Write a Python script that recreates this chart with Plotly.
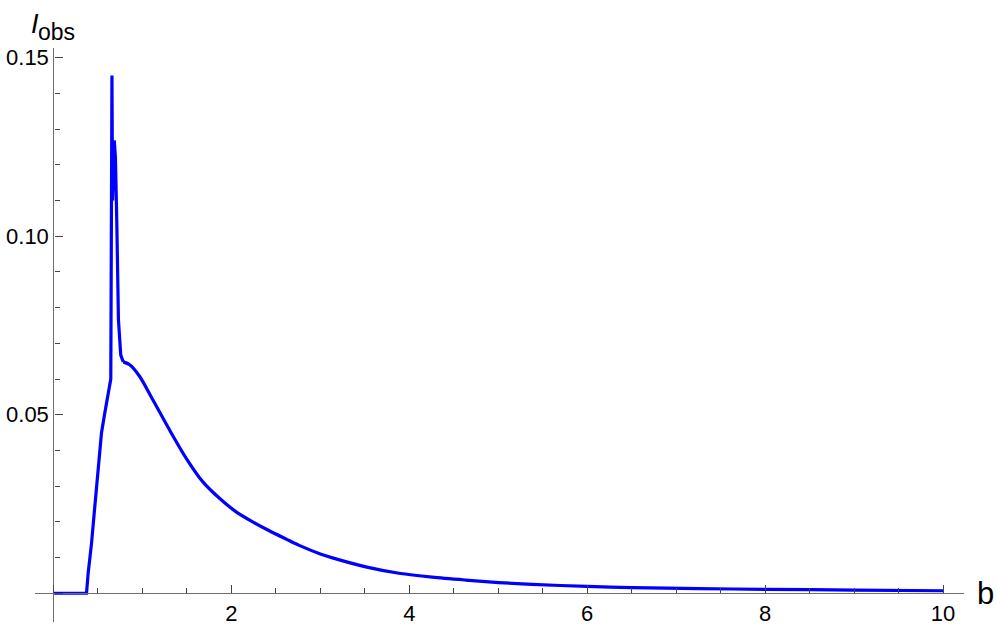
import plotly.graph_objects as go

# values
b_vals = [0, 0.372, 0.39, 0.428, 0.465, 0.502, 0.54, 0.577, 0.633, 0.645, 0.658,
          0.665, 0.684, 0.697, 0.712, 0.731, 0.757, 0.785, 0.858, 0.97, 1.119,
          1.306, 1.493, 1.68, 1.867, 2.054, 2.24, 2.427, 2.614, 2.763, 3.0, 3.137,
          3.511, 3.885, 4.258, 4.632, 5.006, 5.38, 6.0, 6.5, 7.25, 8.0, 9.0, 10.0]
i_obs = [0, 0, 0.0055, 0.0139, 0.0242, 0.0354, 0.0448, 0.0504, 0.0583, 0.060, 0.145,
         0.110, 0.1268, 0.122, 0.1046, 0.0766, 0.0667, 0.0648, 0.0640, 0.0607, 0.0541,
         0.0457, 0.0378, 0.0312, 0.0266, 0.0228, 0.0200, 0.0175, 0.0152, 0.0134, 0.0110,
         0.0099, 0.0074, 0.0056, 0.0045, 0.0037, 0.0030, 0.0025, 0.0019, 0.0016, 0.0013,
         0.0011, 0.0009, 0.0007]

x_ticks = [0, 2, 4, 6, 8, 10]
x_labels = ["", "2", "4", "6", "8", "10"]
y_ticks = [0, 0.05, 0.10, 0.15]
y_labels = ["", "0.05", "0.10", "0.15"]

X_RANGE = [-0.207, 10.236]
Y_RANGE = [-0.00805, 0.1527]

AXIS_GRAY = "#6e6e6e"
FONT = "Liberation Sans, Arial, sans-serif"

# the spike is drawn with straight segments, the smooth decay as a spline
split = b_vals.index(0.785)

fig = go.Figure()
fig.add_trace(
    go.Scatter(
        x=b_vals[: split + 1],
        y=i_obs[: split + 1],
        mode="lines",
        line=dict(color="#0000ff", width=3.2),
        showlegend=False,
    )
)
fig.add_trace(
    go.Scatter(
        x=b_vals[split:],
        y=i_obs[split:],
        mode="lines",
        line=dict(color="#0000ff", width=3.2, shape="spline", smoothing=0.8),
        showlegend=False,
    )
)

axis_common = dict(
    showgrid=False,
    zeroline=False,
    showline=True,
    linecolor=AXIS_GRAY,
    linewidth=1.3,
    ticks="inside",
    ticklen=8,
    tickwidth=1.1,
    tickcolor="#444444",
    tickfont=dict(family=FONT, size=22, color="black"),
    tickmode="array",
    anchor="free",
    automargin=False,
)

fig.update_layout(
    width=997,
    height=629,
    margin=dict(l=35, r=33, t=48, b=7, autoexpand=False),
    paper_bgcolor="white",
    plot_bgcolor="white",
    xaxis=dict(
        **axis_common,
        range=X_RANGE,
        tickvals=x_ticks,
        ticktext=x_labels,
        position=(0 - Y_RANGE[0]) / (Y_RANGE[1] - Y_RANGE[0]),
        minor=dict(dtick=0.5, tick0=0, ticks="inside", ticklen=5, tickcolor="#444444"),
    ),
    yaxis=dict(
        **axis_common,
        range=Y_RANGE,
        tickvals=y_ticks,
        ticktext=y_labels,
        position=(0 - X_RANGE[0]) / (X_RANGE[1] - X_RANGE[0]),
        minor=dict(dtick=0.01, tick0=0, ticks="inside", ticklen=5, tickcolor="#444444"),
    ),
    annotations=[
        dict(
            text="<i>I</i>",
            xref="paper", yref="paper",
            x=-0.0065, y=1.042,
            xanchor="left", yanchor="middle",
            showarrow=False,
            font=dict(family=FONT, size=27, color="black"),
        ),
        dict(
            text="obs",
            xref="paper", yref="paper",
            x=0.0015, y=1.028,
            xanchor="left", yanchor="middle",
            showarrow=False,
            font=dict(family=FONT, size=23, color="black"),
        ),
        dict(
            text="b",
            xref="paper", yref="paper",
            x=1.012, y=(0 - Y_RANGE[0]) / (Y_RANGE[1] - Y_RANGE[0]),
            xanchor="left", yanchor="middle",
            showarrow=False,
            font=dict(family=FONT, size=31, color="black"),
        ),
    ],
)

fig.write_html(
    "out.html",
    config={"displayModeBar": False},
    post_script="document.body.style.margin = '0';",
)
